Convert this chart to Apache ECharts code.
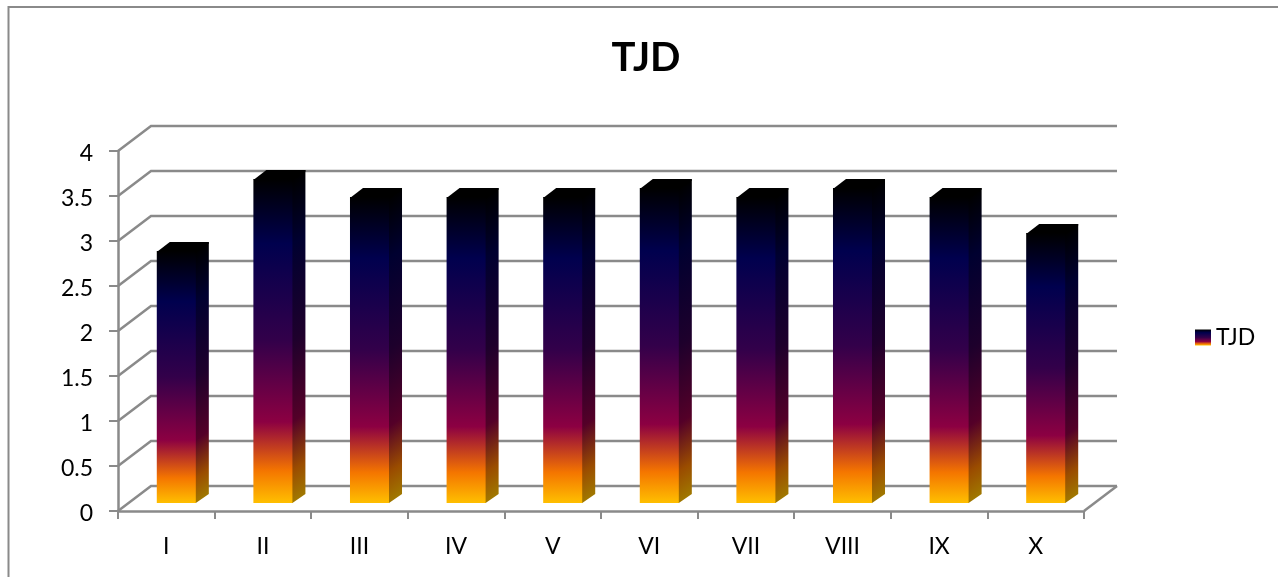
<!DOCTYPE html>
<html>
<head>
<meta charset="utf-8">
<style>html,body{margin:0;padding:0;background:#fff}#c{width:1278px;height:577px}</style>
<script src="https://cdn.jsdelivr.net/npm/echarts@6/dist/echarts.min.js"></script>
</head>
<body>
<div id="c"></div>
<script>
const categories = ['I','II','III','IV','V','VI','VII','VIII','IX','X'];
const seriesName = 'TJD';
const values = [2.8,3.6,3.4,3.4,3.4,3.5,3.4,3.5,3.4,3.0];
const gridValues = [0,0.5,1,1.5,2,2.5,3,3.5,4];

const FONT = 'Lato';
const GREY = '#8a8a8a';
const WALL = {dx:33, dy:-25};
const BAR = {ox:10, oy:-8, ratio:0.404, dx:13, dy:-9};
const frontStops = [
  [0,'#000000'],[0.2,'#00004e'],[0.5,'#33004a'],[0.75,'#8c0042'],[0.9,'#f47500'],[1,'#ffbf00']
];
const sideStops = [
  [0,'#000000'],[0.2,'#000030'],[0.5,'#1e002c'],[0.75,'#540028'],[0.9,'#9a4c00'],[1,'#a07800']
];
const toStops = s => s.map(p => ({offset:p[0], color:p[1]}));
const vGrad = s => new echarts.graphic.LinearGradient(0,0,0,1,toStops(s));

const chart = echarts.init(document.getElementById('c'), null, {renderer:'canvas'});

function renderWall(params, api){
  const v = api.value(1);
  const p = api.coord([0, v]);
  const band = api.size([1,0])[0];
  const x0 = p[0]-band/2, y = p[1];
  const x1 = x0 + band*categories.length;
  const style = {stroke:GREY, lineWidth:2.5, fill:null};
  const children = [{
    type:'polyline',
    shape:{points:[[x0,y],[x0+WALL.dx,y+WALL.dy],[x1+WALL.dx,y+WALL.dy]]},
    style
  }];
  if (v === 0) {
    children.push({type:'line', shape:{x1:x1,y1:y,x2:x1+WALL.dx,y2:y+WALL.dy}, style});
  }
  return {type:'group', silent:true, children};
}

function renderBar(params, api){
  const top = api.coord([api.value(0), api.value(1)]);
  const bot = api.coord([api.value(0), 0]);
  const w = api.size([1,0])[0]*BAR.ratio;
  const x0 = top[0]+BAR.ox-w/2, x1 = x0+w;
  const yT = top[1]+BAR.oy, yB = bot[1]+BAR.oy;
  const H = yB-yT;
  const ux = -BAR.dy, uy = BAR.dx;
  const k = H*uy/(ux*ux+uy*uy);
  const sideFill = {
    type:'linear', global:true,
    x:x1, y:yT, x2:x1+k*ux, y2:yT+k*uy,
    colorStops:toStops(sideStops)
  };
  return {type:'group', children:[
    {type:'polygon', shape:{points:[[x1-1.5,yT],[x1,yT],[x1+BAR.dx,yT+BAR.dy],[x1+BAR.dx,yB+BAR.dy],[x1,yB],[x1-1.5,yB]]},
      style:{fill:sideFill}},
    {type:'polygon', shape:{points:[[x0,yT+1],[x0+BAR.dx,yT+BAR.dy],[x1+BAR.dx,yT+BAR.dy],[x1+BAR.dx,yT+BAR.dy+1.5],[x1,yT+1.5]]},
      style:{fill:'#000000'}},
    {type:'rect', shape:{x:x0,y:yT,width:w,height:H}, style:{fill:vGrad(frontStops)}}
  ]};
}

chart.setOption({
  animation:false,
  backgroundColor:'#ffffff',
  title:{
    text:seriesName, left:641, top:33, textAlign:'center',
    textStyle:{fontFamily:FONT, fontSize:40, fontWeight:'bold', color:'#000'}
  },
  legend:{
    left:1190, top:321, icon:'rect', itemWidth:16, itemHeight:16, itemGap:6, itemStyle:{borderWidth:0},
    data:[{name:seriesName, itemStyle:{color:vGrad(frontStops)}}],
    textStyle:{fontFamily:FONT, fontSize:23, color:'#000'}
  },
  grid:{left:118, top:151, width:966, height:360, containLabel:false},
  xAxis:{
    type:'category', data:categories, boundaryGap:true,
    axisLine:{show:true, onZero:false, lineStyle:{color:GREY, width:2.5}},
    axisTick:{show:true, alignWithLabel:false, length:8, lineStyle:{color:GREY, width:2}},
    axisLabel:{fontFamily:FONT, fontSize:23, color:'#000', margin:24, interval:0},
    splitLine:{show:false}
  },
  yAxis:{
    type:'value', min:0, max:4, interval:0.5,
    axisLine:{show:true, lineStyle:{color:GREY, width:2.5}},
    axisTick:{show:true, length:9, lineStyle:{color:GREY, width:2}},
    axisLabel:{
      formatter:'{a|{value}}', margin:25,
      rich:{a:{fontFamily:FONT, fontSize:23, color:'#000', height:23, lineHeight:29, verticalAlign:'bottom'}}
    },
    splitLine:{show:false}
  },
  graphic:[
    {type:'polyline', silent:true, shape:{points:[[8.5,577],[8.5,7],[1278,7]]},
     style:{stroke:GREY, lineWidth:2, fill:null}}
  ],
  series:[
    {type:'custom', name:'walls', coordinateSystem:'cartesian2d', clip:false, z:1,
     silent:true, renderItem:renderWall, data:gridValues.map(v => [0,v])},
    {type:'custom', name:seriesName, coordinateSystem:'cartesian2d', clip:false, z:3,
     renderItem:renderBar, itemStyle:{color:'#33004a'},
     data:values.map((v,i) => [i,v])}
  ]
});
</script>
</body>
</html>
